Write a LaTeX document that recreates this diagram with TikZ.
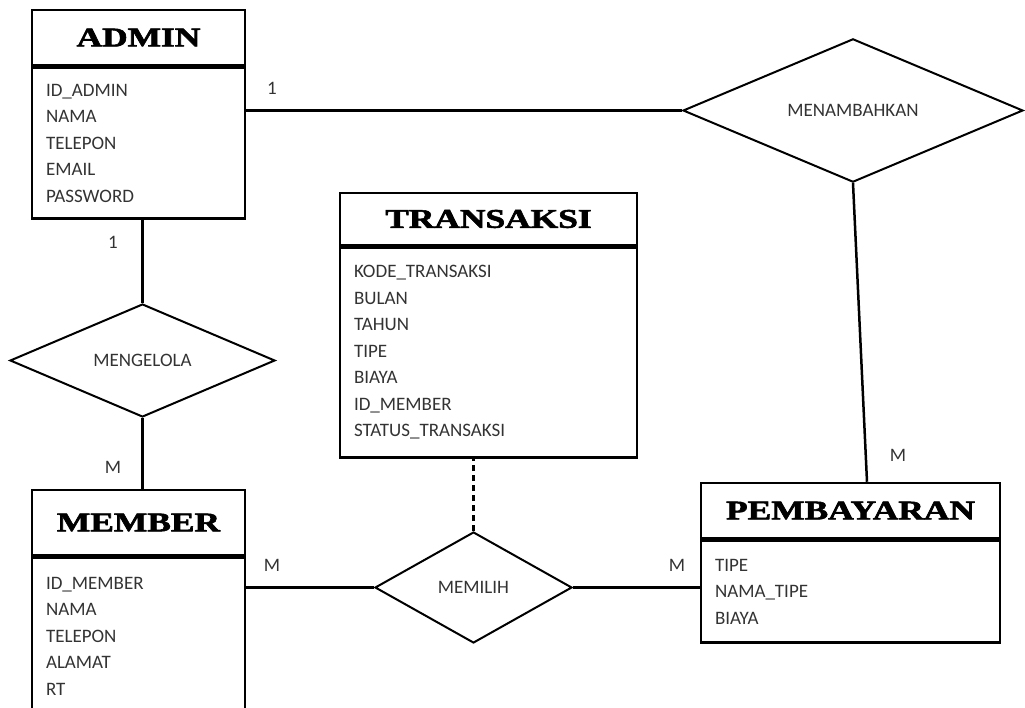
\documentclass[tikz,border=0pt]{standalone}
\usepackage{fontspec}
\setmainfont{Carlito}
\newfontfamily\judulfont{Liberation Serif}[BoldFeatures={FakeBold=2}]
\usepackage{graphicx}
\usetikzlibrary{positioning,shapes.geometric}

% judul entitas: serif tebal, dilebarkan
\newcommand{\judul}[1]{\scalebox{1.31}[1]{\judulfont\bfseries\fontsize{27}{27}\selectfont #1}}

\begin{document}
\begin{tikzpicture}[x=1pt,y=-1pt,
  enttitle/.style={draw, line width=2.5pt, inner sep=0pt},
  entattr/.style={draw, line width=2.5pt, inner xsep=14pt, inner ysep=0pt, align=left,
    font=\fontsize{19}{26.5}\selectfont, text=black!80},
  relasi/.style={draw, diamond, line width=2pt, inner sep=0pt,
    font=\fontsize{19}{19}\selectfont, text=black!80},
  kard/.style={font=\fontsize{19}{19}\selectfont, text=black!80},
  garis/.style={line width=2.5pt}]
\useasboundingbox (0,0) rectangle (1025,708);
%\draw[help lines,step=50] (0,0) grid (1025,708);

% ADMIN
\node [enttitle, minimum width=213pt, minimum height=55pt] (admin) at (138.5,37.5) {\judul{ADMIN}};
\node [entattr, text width=185pt, minimum height=151pt, below=0pt of admin] (adminattr)
  {ID\_ADMIN\\NAMA\\TELEPON\\EMAIL\\PASSWORD};

% TRANSAKSI
\node [enttitle, minimum width=297pt, minimum height=52pt] (transaksi) at (488.5,219) {\judul{TRANSAKSI}};
\node [entattr, text width=269pt, minimum height=210pt, below=0pt of transaksi] (transattr)
  {KODE\_TRANSAKSI\\BULAN\\TAHUN\\TIPE\\BIAYA\\ID\_MEMBER\\STATUS\_TRANSAKSI};

% MEMBER
\node [enttitle, minimum width=213pt, minimum height=65pt] (member) at (138.5,522.5) {\judul{MEMBER}};
\node [entattr, text width=185pt, minimum height=157pt, below=0pt of member] (memberattr)
  {ID\_MEMBER\\NAMA\\TELEPON\\ALAMAT\\RT};

% PEMBAYARAN
\node [enttitle, minimum width=299pt, minimum height=55pt] (pembayaran) at (850.5,510.5) {\judul{PEMBAYARAN}};
\node [entattr, text width=271pt, minimum height=102pt, below=0pt of pembayaran] (pembattr)
  {TIPE\\NAMA\_TIPE\\BIAYA};

% relasi
\node [relasi, minimum width=340pt, minimum height=115pt] (menambahkan) at (853,110.5) {MENAMBAHKAN};
\node [relasi, minimum width=265pt, minimum height=113pt] (mengelola) at (142.5,360.5) {MENGELOLA};
\node [relasi, minimum width=197pt, minimum height=111pt] (memilih) at (473.5,587.5) {MEMILIH};

% garis
\draw [garis] (menambahkan.west) -- (menambahkan.west -| adminattr.east);
\draw [garis] (menambahkan.south) -- ([xshift=16.5pt]pembayaran.north);
\draw [garis] (mengelola.north) -- (mengelola.north |- adminattr.south);
\draw [garis] (mengelola.south) -- (mengelola.south |- member.north);
\draw [garis] (memilih.west) -- (memilih.west -| memberattr.east);
\draw [garis] (memilih.east) -- (memilih.east -| pembattr.west);
\draw [garis, dash pattern=on 6pt off 4pt] (memilih.north) -- (memilih.north |- transattr.south);

% kardinalitas
\node [kard] (k1) at (272,88) {1};
\node [kard] (k2) at (898,455) {M};
\node [kard] (k3) at (113,242) {1};
\node [kard] (k4) at (113,467) {M};
\node [kard] (k5) at (272,565) {M};
\node [kard] (k6) at (677,565) {M};
\end{tikzpicture}
\end{document}
